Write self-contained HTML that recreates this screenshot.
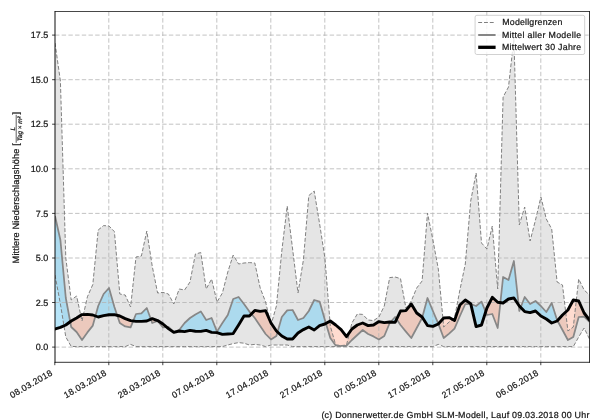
<!DOCTYPE html>
<html><head><meta charset="utf-8"><title>Niederschlag</title>
<style>
html,body{margin:0;padding:0;background:#fff;}
body{width:600px;height:420px;overflow:hidden;font-family:"Liberation Sans",sans-serif;}
svg{display:block;will-change:transform;}
text{font-family:"Liberation Sans",sans-serif;fill:#161616;stroke:#161616;stroke-width:0.22px;text-rendering:geometricPrecision;}
</style></head>
<body>
<svg width="600" height="420" viewBox="0 0 600 420">
<rect x="0" y="0" width="600" height="420" fill="#ffffff"/>
<defs><clipPath id="ax"><rect x="55" y="11.5" width="534.5" height="350.8"/></clipPath></defs>
<g clip-path="url(#ax)">
<path d="M55.0 43.0 L60.4 81.0 L65.8 258.0 L71.2 300.0 L76.6 296.0 L82.0 321.0 L87.4 296.8 L92.8 284.5 L98.2 230.0 L103.6 225.6 L109.0 226.0 L114.4 231.6 L119.8 294.0 L125.2 295.0 L130.6 307.0 L136.0 257.0 L141.4 256.0 L146.8 231.0 L152.2 266.0 L157.6 293.0 L163.0 292.4 L168.4 294.0 L173.8 304.0 L179.2 289.0 L184.6 290.0 L190.0 282.0 L195.4 254.0 L200.8 252.6 L206.2 289.0 L211.6 279.0 L217.0 302.0 L222.4 293.0 L227.8 272.0 L233.2 255.0 L238.6 264.0 L244.0 263.0 L249.4 262.6 L254.8 263.0 L260.2 288.0 L265.6 302.0 L271.0 325.0 L276.4 306.0 L281.8 251.0 L287.2 206.0 L292.6 249.0 L298.0 293.0 L303.4 260.0 L308.8 195.6 L314.2 191.0 L319.6 223.8 L324.9 258.0 L330.3 326.0 L335.7 345.0 L341.1 345.6 L346.5 345.0 L351.9 323.0 L357.3 314.0 L362.7 314.4 L368.1 320.0 L373.5 320.6 L378.9 317.0 L384.3 306.0 L389.7 277.6 L395.1 277.0 L400.5 278.6 L405.9 308.0 L411.3 301.0 L416.7 288.0 L422.1 281.0 L427.5 213.0 L432.9 240.0 L438.3 269.0 L443.7 327.0 L449.1 322.0 L454.5 318.0 L459.9 290.0 L465.3 264.0 L470.7 201.0 L476.1 173.0 L481.5 243.0 L486.9 249.0 L492.3 226.0 L497.7 289.0 L503.1 97.0 L508.5 87.0 L513.9 38.5 L519.3 225.0 L524.7 207.0 L530.1 241.0 L535.5 220.0 L540.9 197.0 L546.3 219.0 L551.7 229.0 L557.1 282.0 L562.5 285.0 L567.9 331.0 L573.3 327.0 L578.7 279.0 L584.1 290.0 L589.5 295.0 L589.5 339.0 L584.1 328.0 L578.7 337.0 L573.3 346.6 L567.9 346.6 L562.5 346.6 L557.1 346.6 L551.7 346.6 L546.3 346.6 L540.9 346.6 L535.5 346.6 L530.1 346.6 L524.7 346.6 L519.3 346.6 L513.9 346.6 L508.5 346.6 L503.1 346.6 L497.7 346.6 L492.3 346.6 L486.9 346.6 L481.5 346.6 L476.1 346.6 L470.7 346.6 L465.3 346.6 L459.9 346.6 L454.5 346.6 L449.1 346.6 L443.7 346.6 L438.3 344.4 L432.9 346.6 L427.5 346.6 L422.1 346.6 L416.7 346.6 L411.3 346.6 L405.9 346.6 L400.5 346.6 L395.1 346.6 L389.7 346.6 L384.3 346.6 L378.9 346.6 L373.5 346.6 L368.1 346.6 L362.7 346.6 L357.3 346.6 L351.9 346.6 L346.5 346.6 L341.1 346.6 L335.7 346.6 L330.3 346.6 L324.9 346.6 L319.6 346.6 L314.2 346.6 L308.8 346.6 L303.4 346.6 L298.0 346.6 L292.6 346.6 L287.2 345.0 L281.8 345.0 L276.4 345.0 L271.0 345.0 L265.6 346.6 L260.2 345.0 L254.8 344.4 L249.4 345.0 L244.0 343.2 L238.6 342.6 L233.2 343.6 L227.8 345.0 L222.4 346.6 L217.0 346.6 L211.6 346.6 L206.2 346.6 L200.8 346.6 L195.4 346.6 L190.0 346.6 L184.6 346.6 L179.2 346.6 L173.8 346.6 L168.4 346.6 L163.0 346.6 L157.6 346.6 L152.2 346.6 L146.8 346.6 L141.4 346.6 L136.0 346.6 L130.6 344.4 L125.2 346.6 L119.8 346.6 L114.4 346.6 L109.0 346.6 L103.6 346.6 L98.2 346.6 L92.8 346.6 L87.4 346.6 L82.0 346.6 L76.6 346.6 L71.2 346.4 L65.8 337.0 L60.4 304.0 L55.0 275.0 Z" fill="#d3d3d3" fill-opacity="0.6" stroke="none"/>
<path d="M55.0 216.0 L60.4 240.0 L65.8 298.0 L70.2 321.7 L70.2 321.7 L65.8 325.0 L60.4 327.4 L55.0 329.0 Z M95.4 316.0 L98.2 306.0 L103.6 294.0 L109.0 288.0 L114.4 307.0 L117.2 315.3 L117.2 315.3 L114.4 314.6 L109.0 314.8 L103.6 315.6 L98.2 317.0 L95.4 316.0 Z M133.2 321.0 L136.0 314.0 L141.4 313.4 L146.8 308.0 L150.8 319.2 L150.8 319.2 L146.8 321.0 L141.4 321.4 L136.0 321.4 L133.2 321.0 Z M166.7 327.1 L168.4 327.0 L173.8 332.0 L179.2 330.0 L184.6 323.0 L190.0 318.0 L195.4 314.4 L200.8 311.4 L206.2 320.0 L211.6 318.0 L217.0 331.6 L222.4 323.0 L227.8 315.0 L233.2 299.0 L238.6 297.0 L244.0 304.0 L249.4 311.6 L251.3 313.9 L251.3 313.9 L249.4 316.0 L244.0 316.0 L238.6 325.0 L233.2 333.6 L227.8 334.0 L222.4 334.4 L217.0 332.6 L211.6 332.4 L206.2 330.4 L200.8 331.4 L195.4 331.2 L190.0 330.4 L184.6 331.6 L179.2 331.0 L173.8 332.4 L168.4 328.6 L166.7 327.1 Z M277.5 332.0 L281.8 317.0 L287.2 310.4 L292.6 310.0 L298.0 320.0 L303.4 318.0 L308.8 311.0 L314.2 300.0 L319.6 301.6 L324.9 320.0 L326.0 323.4 L326.0 323.4 L324.9 324.0 L319.6 325.6 L314.2 330.0 L308.8 327.0 L303.4 329.6 L298.0 333.0 L292.6 339.0 L287.2 339.0 L281.8 336.0 L277.5 332.0 Z M390.6 322.1 L395.1 317.0 L396.6 319.2 L396.6 319.2 L395.1 322.4 L390.6 322.1 Z M422.3 317.3 L427.5 298.0 L432.9 311.0 L438.3 323.6 L438.4 323.9 L438.4 323.9 L438.3 324.0 L432.9 326.4 L427.5 325.6 L422.3 317.3 Z M470.8 304.0 L476.1 306.0 L481.5 301.6 L485.7 311.9 L485.7 311.9 L481.5 325.0 L476.1 326.6 L470.8 304.0 Z M500.4 302.6 L503.1 277.0 L508.5 280.0 L513.9 261.0 L518.7 305.0 L518.7 305.0 L513.9 298.0 L508.5 299.0 L503.1 303.0 L500.4 302.6 Z M520.7 307.4 L524.7 297.0 L530.1 304.0 L535.5 301.0 L540.9 306.0 L546.3 312.0 L551.7 303.0 L557.1 320.0 L557.4 320.6 L557.4 320.6 L557.1 321.0 L551.7 323.0 L546.3 319.0 L540.9 316.0 L535.5 311.0 L530.1 312.6 L524.7 311.6 L520.7 307.4 Z" fill="#7ed0f4" fill-opacity="0.56" stroke="none"/>
<path d="M70.2 321.7 L71.2 327.0 L76.6 332.0 L82.0 340.0 L87.4 332.4 L92.8 325.6 L95.4 316.0 L95.4 316.0 L92.8 315.0 L87.4 314.4 L82.0 314.6 L76.6 318.0 L71.2 321.0 L70.2 321.7 Z M117.2 315.3 L119.8 323.0 L125.2 326.4 L130.6 327.4 L133.2 321.0 L133.2 321.0 L130.6 320.6 L125.2 318.6 L119.8 316.0 L117.2 315.3 Z M150.8 319.2 L152.2 323.0 L157.6 321.0 L163.0 327.4 L166.7 327.1 L166.7 327.1 L163.0 324.0 L157.6 320.6 L152.2 318.6 L150.8 319.2 Z M251.3 313.9 L254.8 318.0 L260.2 326.0 L265.6 334.0 L271.0 339.4 L276.4 336.0 L277.5 332.0 L277.5 332.0 L276.4 331.0 L271.0 323.0 L265.6 310.6 L260.2 311.4 L254.8 310.4 L251.3 313.9 Z M326.0 323.4 L330.3 338.0 L335.7 345.4 L341.1 346.0 L346.5 345.6 L351.9 340.0 L357.3 335.0 L362.7 330.0 L368.1 334.0 L373.5 336.4 L378.9 339.4 L384.3 336.0 L389.7 323.0 L390.6 322.1 L390.6 322.1 L389.7 322.0 L384.3 322.6 L378.9 321.6 L373.5 325.0 L368.1 325.6 L362.7 323.0 L357.3 325.0 L351.9 329.0 L346.5 336.6 L341.1 329.6 L335.7 325.0 L330.3 321.0 L326.0 323.4 Z M396.6 319.2 L400.5 325.0 L405.9 331.6 L411.3 338.0 L416.7 328.0 L422.1 318.0 L422.3 317.3 L422.3 317.3 L422.1 317.0 L416.7 313.0 L411.3 304.0 L405.9 310.6 L400.5 311.0 L396.6 319.2 Z M438.4 323.9 L443.7 338.0 L449.1 333.6 L454.5 328.6 L459.9 316.0 L465.3 304.0 L470.7 304.0 L470.8 304.0 L470.8 304.0 L470.7 303.6 L465.3 300.0 L459.9 305.0 L454.5 320.6 L449.1 317.6 L443.7 318.0 L438.4 323.9 Z M485.7 311.9 L486.9 315.0 L492.3 314.0 L497.7 328.0 L500.4 302.6 L500.4 302.6 L497.7 302.3 L492.3 297.3 L486.9 308.0 L485.7 311.9 Z M518.7 305.0 L519.3 311.0 L520.7 307.4 L520.7 307.4 L519.3 306.0 L518.7 305.0 Z M557.4 320.6 L562.5 330.0 L567.9 340.0 L573.3 337.0 L578.7 317.0 L584.1 316.6 L589.5 322.0 L589.5 320.0 L584.1 313.0 L578.7 301.0 L573.3 300.0 L567.9 310.0 L562.5 315.0 L557.4 320.6 Z" fill="#ff7f50" fill-opacity="0.27" stroke="none"/>
<g stroke="#b4b4b4" stroke-width="0.8" stroke-dasharray="4.4 2.3" fill="none"><line x1="108.8" y1="11.5" x2="108.8" y2="362.3"/><line x1="162.8" y1="11.5" x2="162.8" y2="362.3"/><line x1="216.8" y1="11.5" x2="216.8" y2="362.3"/><line x1="270.8" y1="11.5" x2="270.8" y2="362.3"/><line x1="324.8" y1="11.5" x2="324.8" y2="362.3"/><line x1="378.8" y1="11.5" x2="378.8" y2="362.3"/><line x1="432.8" y1="11.5" x2="432.8" y2="362.3"/><line x1="486.8" y1="11.5" x2="486.8" y2="362.3"/><line x1="540.8" y1="11.5" x2="540.8" y2="362.3"/><line x1="55.0" y1="347.1" x2="589.5" y2="347.1"/><line x1="55.0" y1="302.5" x2="589.5" y2="302.5"/><line x1="55.0" y1="258.0" x2="589.5" y2="258.0"/><line x1="55.0" y1="213.4" x2="589.5" y2="213.4"/><line x1="55.0" y1="168.8" x2="589.5" y2="168.8"/><line x1="55.0" y1="124.2" x2="589.5" y2="124.2"/><line x1="55.0" y1="79.7" x2="589.5" y2="79.7"/><line x1="55.0" y1="35.1" x2="589.5" y2="35.1"/></g>
<path d="M55.0 43.0 L60.4 81.0 L65.8 258.0 L71.2 300.0 L76.6 296.0 L82.0 321.0 L87.4 296.8 L92.8 284.5 L98.2 230.0 L103.6 225.6 L109.0 226.0 L114.4 231.6 L119.8 294.0 L125.2 295.0 L130.6 307.0 L136.0 257.0 L141.4 256.0 L146.8 231.0 L152.2 266.0 L157.6 293.0 L163.0 292.4 L168.4 294.0 L173.8 304.0 L179.2 289.0 L184.6 290.0 L190.0 282.0 L195.4 254.0 L200.8 252.6 L206.2 289.0 L211.6 279.0 L217.0 302.0 L222.4 293.0 L227.8 272.0 L233.2 255.0 L238.6 264.0 L244.0 263.0 L249.4 262.6 L254.8 263.0 L260.2 288.0 L265.6 302.0 L271.0 325.0 L276.4 306.0 L281.8 251.0 L287.2 206.0 L292.6 249.0 L298.0 293.0 L303.4 260.0 L308.8 195.6 L314.2 191.0 L319.6 223.8 L324.9 258.0 L330.3 326.0 L335.7 345.0 L341.1 345.6 L346.5 345.0 L351.9 323.0 L357.3 314.0 L362.7 314.4 L368.1 320.0 L373.5 320.6 L378.9 317.0 L384.3 306.0 L389.7 277.6 L395.1 277.0 L400.5 278.6 L405.9 308.0 L411.3 301.0 L416.7 288.0 L422.1 281.0 L427.5 213.0 L432.9 240.0 L438.3 269.0 L443.7 327.0 L449.1 322.0 L454.5 318.0 L459.9 290.0 L465.3 264.0 L470.7 201.0 L476.1 173.0 L481.5 243.0 L486.9 249.0 L492.3 226.0 L497.7 289.0 L503.1 97.0 L508.5 87.0 L513.9 38.5 L519.3 225.0 L524.7 207.0 L530.1 241.0 L535.5 220.0 L540.9 197.0 L546.3 219.0 L551.7 229.0 L557.1 282.0 L562.5 285.0 L567.9 331.0 L573.3 327.0 L578.7 279.0 L584.1 290.0 L589.5 295.0" fill="none" stroke="#808080" stroke-width="1" stroke-dasharray="3.9 1.9"/>
<path d="M55.0 275.0 L60.4 304.0 L65.8 337.0 L71.2 346.4 L76.6 346.6 L82.0 346.6 L87.4 346.6 L92.8 346.6 L98.2 346.6 L103.6 346.6 L109.0 346.6 L114.4 346.6 L119.8 346.6 L125.2 346.6 L130.6 344.4 L136.0 346.6 L141.4 346.6 L146.8 346.6 L152.2 346.6 L157.6 346.6 L163.0 346.6 L168.4 346.6 L173.8 346.6 L179.2 346.6 L184.6 346.6 L190.0 346.6 L195.4 346.6 L200.8 346.6 L206.2 346.6 L211.6 346.6 L217.0 346.6 L222.4 346.6 L227.8 345.0 L233.2 343.6 L238.6 342.6 L244.0 343.2 L249.4 345.0 L254.8 344.4 L260.2 345.0 L265.6 346.6 L271.0 345.0 L276.4 345.0 L281.8 345.0 L287.2 345.0 L292.6 346.6 L298.0 346.6 L303.4 346.6 L308.8 346.6 L314.2 346.6 L319.6 346.6 L324.9 346.6 L330.3 346.6 L335.7 346.6 L341.1 346.6 L346.5 346.6 L351.9 346.6 L357.3 346.6 L362.7 346.6 L368.1 346.6 L373.5 346.6 L378.9 346.6 L384.3 346.6 L389.7 346.6 L395.1 346.6 L400.5 346.6 L405.9 346.6 L411.3 346.6 L416.7 346.6 L422.1 346.6 L427.5 346.6 L432.9 346.6 L438.3 344.4 L443.7 346.6 L449.1 346.6 L454.5 346.6 L459.9 346.6 L465.3 346.6 L470.7 346.6 L476.1 346.6 L481.5 346.6 L486.9 346.6 L492.3 346.6 L497.7 346.6 L503.1 346.6 L508.5 346.6 L513.9 346.6 L519.3 346.6 L524.7 346.6 L530.1 346.6 L535.5 346.6 L540.9 346.6 L546.3 346.6 L551.7 346.6 L557.1 346.6 L562.5 346.6 L567.9 346.6 L573.3 346.6 L578.7 337.0 L584.1 328.0 L589.5 339.0" fill="none" stroke="#808080" stroke-width="1" stroke-dasharray="3.9 1.9"/>
<path d="M55.0 216.0 L60.4 240.0 L65.8 298.0 L71.2 327.0 L76.6 332.0 L82.0 340.0 L87.4 332.4 L92.8 325.6 L98.2 306.0 L103.6 294.0 L109.0 288.0 L114.4 307.0 L119.8 323.0 L125.2 326.4 L130.6 327.4 L136.0 314.0 L141.4 313.4 L146.8 308.0 L152.2 323.0 L157.6 321.0 L163.0 327.4 L168.4 327.0 L173.8 332.0 L179.2 330.0 L184.6 323.0 L190.0 318.0 L195.4 314.4 L200.8 311.4 L206.2 320.0 L211.6 318.0 L217.0 331.6 L222.4 323.0 L227.8 315.0 L233.2 299.0 L238.6 297.0 L244.0 304.0 L249.4 311.6 L254.8 318.0 L260.2 326.0 L265.6 334.0 L271.0 339.4 L276.4 336.0 L281.8 317.0 L287.2 310.4 L292.6 310.0 L298.0 320.0 L303.4 318.0 L308.8 311.0 L314.2 300.0 L319.6 301.6 L324.9 320.0 L330.3 338.0 L335.7 345.4 L341.1 346.0 L346.5 345.6 L351.9 340.0 L357.3 335.0 L362.7 330.0 L368.1 334.0 L373.5 336.4 L378.9 339.4 L384.3 336.0 L389.7 323.0 L395.1 317.0 L400.5 325.0 L405.9 331.6 L411.3 338.0 L416.7 328.0 L422.1 318.0 L427.5 298.0 L432.9 311.0 L438.3 323.6 L443.7 338.0 L449.1 333.6 L454.5 328.6 L459.9 316.0 L465.3 304.0 L470.7 304.0 L476.1 306.0 L481.5 301.6 L486.9 315.0 L492.3 314.0 L497.7 328.0 L503.1 277.0 L508.5 280.0 L513.9 261.0 L519.3 311.0 L524.7 297.0 L530.1 304.0 L535.5 301.0 L540.9 306.0 L546.3 312.0 L551.7 303.0 L557.1 320.0 L562.5 330.0 L567.9 340.0 L573.3 337.0 L578.7 317.0 L584.1 316.6 L589.5 322.0" fill="none" stroke="#878787" stroke-width="1.75" stroke-linejoin="round"/>
<path d="M55.0 329.0 L60.4 327.4 L65.8 325.0 L71.2 321.0 L76.6 318.0 L82.0 314.6 L87.4 314.4 L92.8 315.0 L98.2 317.0 L103.6 315.6 L109.0 314.8 L114.4 314.6 L119.8 316.0 L125.2 318.6 L130.6 320.6 L136.0 321.4 L141.4 321.4 L146.8 321.0 L152.2 318.6 L157.6 320.6 L163.0 324.0 L168.4 328.6 L173.8 332.4 L179.2 331.0 L184.6 331.6 L190.0 330.4 L195.4 331.2 L200.8 331.4 L206.2 330.4 L211.6 332.4 L217.0 332.6 L222.4 334.4 L227.8 334.0 L233.2 333.6 L238.6 325.0 L244.0 316.0 L249.4 316.0 L254.8 310.4 L260.2 311.4 L265.6 310.6 L271.0 323.0 L276.4 331.0 L281.8 336.0 L287.2 339.0 L292.6 339.0 L298.0 333.0 L303.4 329.6 L308.8 327.0 L314.2 330.0 L319.6 325.6 L324.9 324.0 L330.3 321.0 L335.7 325.0 L341.1 329.6 L346.5 336.6 L351.9 329.0 L357.3 325.0 L362.7 323.0 L368.1 325.6 L373.5 325.0 L378.9 321.6 L384.3 322.6 L389.7 322.0 L395.1 322.4 L400.5 311.0 L405.9 310.6 L411.3 304.0 L416.7 313.0 L422.1 317.0 L427.5 325.6 L432.9 326.4 L438.3 324.0 L443.7 318.0 L449.1 317.6 L454.5 320.6 L459.9 305.0 L465.3 300.0 L470.7 303.6 L476.1 326.6 L481.5 325.0 L486.9 308.0 L492.3 297.3 L497.7 302.3 L503.1 303.0 L508.5 299.0 L513.9 298.0 L519.3 306.0 L524.7 311.6 L530.1 312.6 L535.5 311.0 L540.9 316.0 L546.3 319.0 L551.7 323.0 L557.1 321.0 L562.5 315.0 L567.9 310.0 L573.3 300.0 L578.7 301.0 L584.1 313.0 L589.5 320.0" fill="none" stroke="#000000" stroke-width="2.9" stroke-linejoin="round" stroke-linecap="square"/>
</g>
<g stroke="#000" fill="none">
<line x1="54.7" y1="11.5" x2="589.9" y2="11.5" stroke-width="0.72"/>
<line x1="54.7" y1="362.3" x2="589.9" y2="362.3" stroke-width="0.8"/>
<line x1="55.0" y1="11.2" x2="55.0" y2="362.7" stroke-width="0.95"/>
<line x1="589.5" y1="11.2" x2="589.5" y2="362.7" stroke-width="0.78"/>
</g>
<g stroke="#000" stroke-width="0.75"><line x1="54.8" y1="362.3" x2="54.8" y2="365.2"/><line x1="108.8" y1="362.3" x2="108.8" y2="365.2"/><line x1="162.8" y1="362.3" x2="162.8" y2="365.2"/><line x1="216.8" y1="362.3" x2="216.8" y2="365.2"/><line x1="270.8" y1="362.3" x2="270.8" y2="365.2"/><line x1="324.8" y1="362.3" x2="324.8" y2="365.2"/><line x1="378.8" y1="362.3" x2="378.8" y2="365.2"/><line x1="432.8" y1="362.3" x2="432.8" y2="365.2"/><line x1="486.8" y1="362.3" x2="486.8" y2="365.2"/><line x1="540.8" y1="362.3" x2="540.8" y2="365.2"/><line x1="52.1" y1="347.1" x2="55.0" y2="347.1"/><line x1="52.1" y1="302.5" x2="55.0" y2="302.5"/><line x1="52.1" y1="258.0" x2="55.0" y2="258.0"/><line x1="52.1" y1="213.4" x2="55.0" y2="213.4"/><line x1="52.1" y1="168.8" x2="55.0" y2="168.8"/><line x1="52.1" y1="124.2" x2="55.0" y2="124.2"/><line x1="52.1" y1="79.7" x2="55.0" y2="79.7"/><line x1="52.1" y1="35.1" x2="55.0" y2="35.1"/></g>
<g font-size="9px"><text x="48.3" y="350.3" text-anchor="end">0.0</text><text x="48.3" y="305.7" text-anchor="end">2.5</text><text x="48.3" y="261.2" text-anchor="end">5.0</text><text x="48.3" y="216.6" text-anchor="end">7.5</text><text x="48.3" y="172.0" text-anchor="end">10.0</text><text x="48.3" y="127.4" text-anchor="end">12.5</text><text x="48.3" y="82.9" text-anchor="end">15.0</text><text x="48.3" y="38.3" text-anchor="end">17.5</text></g>
<g font-size="8.8px"><text x="53.0" y="374.7" text-anchor="end" textLength="47.4" lengthAdjust="spacing" transform="rotate(-30 53.0 374.7)">08.03.2018</text><text x="107.0" y="374.7" text-anchor="end" textLength="47.4" lengthAdjust="spacing" transform="rotate(-30 107.0 374.7)">18.03.2018</text><text x="161.0" y="374.7" text-anchor="end" textLength="47.4" lengthAdjust="spacing" transform="rotate(-30 161.0 374.7)">28.03.2018</text><text x="215.0" y="374.7" text-anchor="end" textLength="47.4" lengthAdjust="spacing" transform="rotate(-30 215.0 374.7)">07.04.2018</text><text x="269.0" y="374.7" text-anchor="end" textLength="47.4" lengthAdjust="spacing" transform="rotate(-30 269.0 374.7)">17.04.2018</text><text x="323.0" y="374.7" text-anchor="end" textLength="47.4" lengthAdjust="spacing" transform="rotate(-30 323.0 374.7)">27.04.2018</text><text x="377.0" y="374.7" text-anchor="end" textLength="47.4" lengthAdjust="spacing" transform="rotate(-30 377.0 374.7)">07.05.2018</text><text x="431.0" y="374.7" text-anchor="end" textLength="47.4" lengthAdjust="spacing" transform="rotate(-30 431.0 374.7)">17.05.2018</text><text x="485.0" y="374.7" text-anchor="end" textLength="47.4" lengthAdjust="spacing" transform="rotate(-30 485.0 374.7)">27.05.2018</text><text x="539.0" y="374.7" text-anchor="end" textLength="47.4" lengthAdjust="spacing" transform="rotate(-30 539.0 374.7)">06.06.2018</text></g>
<!-- y axis label -->
<g transform="translate(18.7 263.4) rotate(-90)">
<text x="0" y="0" font-size="9.2px" textLength="120.2" lengthAdjust="spacing">Mittlere Niederschlagshöhe [</text>
<g transform="translate(120.6 0)">
<text x="14" y="-4.2" font-size="6.4px" font-style="italic" text-anchor="middle">L</text>
<line x1="0" y1="-2.5" x2="28" y2="-2.5" stroke="#1a1a1a" stroke-width="0.7"/>
<text x="14" y="2.9" font-size="6.4px" font-style="italic" text-anchor="middle" textLength="25" lengthAdjust="spacing">Tag × m²</text>
<text x="28.2" y="0" font-size="9.2px">]</text>
</g>
</g>
<!-- legend -->
<rect x="475.1" y="15.3" width="109.6" height="39.2" rx="1.8" ry="1.8" fill="#ffffff" fill-opacity="0.8" stroke="#cccccc" stroke-width="0.9"/>
<line x1="478.2" y1="22.5" x2="495.6" y2="22.5" stroke="#808080" stroke-width="1" stroke-dasharray="3.9 1.9"/>
<line x1="478.2" y1="35.0" x2="495.6" y2="35.0" stroke="#808080" stroke-width="1.9"/>
<line x1="478.2" y1="47.3" x2="495.6" y2="47.3" stroke="#000" stroke-width="3.3"/>
<g font-size="8.8px">
<text x="502.3" y="24.9" textLength="60" lengthAdjust="spacing">Modellgrenzen</text>
<text x="501.9" y="37.5" textLength="79.3" lengthAdjust="spacing">Mittel aller Modelle</text>
<text x="501.9" y="50.0" textLength="79.3" lengthAdjust="spacing">Mittelwert 30 Jahre</text>
</g>
<text x="589.4" y="417.8" font-size="8.9px" text-anchor="end" textLength="268" lengthAdjust="spacing">(c) Donnerwetter.de GmbH SLM-Modell, Lauf 09.03.2018 00 Uhr</text>
</svg>
</body></html>
